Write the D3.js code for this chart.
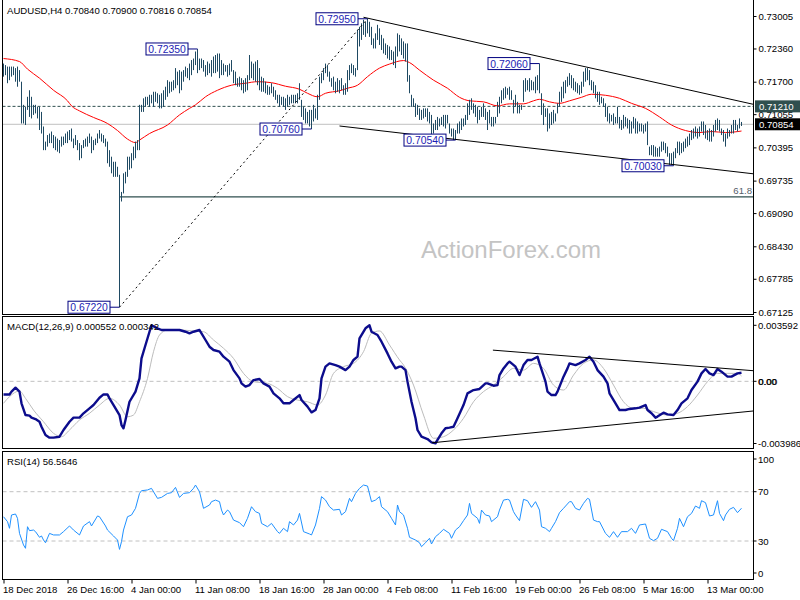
<!DOCTYPE html>
<html><head><meta charset="utf-8">
<script src="https://cdn.jsdelivr.net/npm/d3@7"></script>
<style>body{margin:0;background:#fff}svg{display:block}text{font-family:'Liberation Sans',Arial,sans-serif}</style>
</head><body><svg id="c" width="800" height="600"></svg>
<script>
// ---------------- DATA ----------------
const mainTitle = "AUDUSD,H4  0.70840 0.70900 0.70816 0.70854";
const macdTitle = "MACD(12,26,9) 0.000552 0.000342";
const rsiTitle = "RSI(14) 56.5646";
const watermark = "ActionForex.com";

const barHigh = [
0.7206,0.7203,0.7200,0.7200,0.7200,0.7200,0.7197,0.7200,0.7193,0.7170,
0.7124,0.7120,0.7140,0.7153,0.7140,0.7124,0.7124,0.7120,0.7120,0.7110,
0.7081,0.7051,0.7064,0.7067,0.7071,0.7064,0.7061,0.7057,0.7054,0.7061,
0.7061,0.7067,0.7071,0.7074,0.7077,0.7057,0.7064,0.7054,0.7048,0.7044,
0.7054,0.7057,0.7061,0.7067,0.7061,0.7054,0.7057,0.7067,0.7074,0.7067,
0.7064,0.7057,0.7051,0.7034,0.7021,0.7011,0.7011,0.7001,0.6985,0.6951,
0.6988,0.6991,0.7021,0.7021,0.7028,0.7041,0.7051,0.7054,0.7124,0.7124,
0.7137,0.7140,0.7140,0.7144,0.7144,0.7150,0.7150,0.7147,0.7144,0.7147,
0.7153,0.7160,0.7173,0.7170,0.7170,0.7173,0.7197,0.7190,0.7193,0.7190,
0.7193,0.7200,0.7197,0.7206,0.7213,0.7216,0.7230,0.7235,0.7216,0.7216,
0.7213,0.7203,0.7210,0.7206,0.7213,0.7220,0.7223,0.7226,0.7226,0.7213,
0.7206,0.7203,0.7203,0.7206,0.7213,0.7193,0.7190,0.7177,0.7180,0.7177,
0.7173,0.7177,0.7183,0.7223,0.7210,0.7206,0.7210,0.7213,0.7197,0.7180,
0.7177,0.7170,0.7163,0.7160,0.7167,0.7160,0.7153,0.7144,0.7144,0.7140,
0.7140,0.7137,0.7144,0.7140,0.7144,0.7144,0.7144,0.7147,0.7167,0.7134,
0.7120,0.7117,0.7110,0.7114,0.7114,0.7124,0.7117,0.7144,0.7180,0.7187,
0.7197,0.7206,0.7203,0.7190,0.7177,0.7180,0.7170,0.7177,0.7173,0.7177,
0.7163,0.7167,0.7193,0.7203,0.7206,0.7203,0.7197,0.7273,0.7279,0.7286,
0.7293,0.7289,0.7295,0.7289,0.7279,0.7256,0.7266,0.7283,0.7276,0.7263,
0.7256,0.7246,0.7243,0.7240,0.7233,0.7230,0.7240,0.7266,0.7263,0.7256,
0.7250,0.7246,0.7246,0.7183,0.7144,0.7137,0.7127,0.7124,0.7117,0.7114,
0.7117,0.7117,0.7117,0.7110,0.7104,0.7087,0.7094,0.7100,0.7097,0.7100,
0.7104,0.7104,0.7104,0.7087,0.7077,0.7077,0.7074,0.7087,0.7091,0.7097,
0.7097,0.7104,0.7127,0.7134,0.7137,0.7127,0.7124,0.7120,0.7114,0.7120,
0.7127,0.7117,0.7110,0.7114,0.7100,0.7100,0.7100,0.7130,0.7140,0.7153,
0.7157,0.7160,0.7157,0.7160,0.7153,0.7134,0.7144,0.7130,0.7124,0.7124,
0.7173,0.7177,0.7173,0.7177,0.7173,0.7170,0.7180,0.7183,0.7206,0.7147,
0.7127,0.7117,0.7117,0.7107,0.7110,0.7114,0.7107,0.7127,0.7150,0.7160,
0.7170,0.7173,0.7180,0.7187,0.7183,0.7177,0.7170,0.7167,0.7163,0.7170,
0.7190,0.7197,0.7197,0.7193,0.7173,0.7170,0.7163,0.7150,0.7150,0.7140,
0.7137,0.7127,0.7120,0.7107,0.7104,0.7107,0.7100,0.7120,0.7100,0.7094,
0.7104,0.7100,0.7097,0.7094,0.7091,0.7100,0.7097,0.7091,0.7087,0.7087,
0.7084,0.7087,0.7091,0.7041,0.7044,0.7044,0.7041,0.7038,0.7041,0.7051,
0.7051,0.7048,0.7041,0.7028,0.7028,0.7031,0.7038,0.7051,0.7051,0.7048,
0.7051,0.7057,0.7061,0.7067,0.7074,0.7077,0.7081,0.7077,0.7081,0.7091,
0.7091,0.7084,0.7074,0.7077,0.7074,0.7084,0.7094,0.7097,0.7094,0.7077,
0.7074,0.7067,0.7077,0.7074,0.7084,0.7094,0.7094,0.7084,0.7097,0.7090];

const barLow = [
0.7180,0.7183,0.7167,0.7173,0.7180,0.7183,0.7170,0.7160,0.7170,0.7087,
0.7087,0.7084,0.7114,0.7100,0.7097,0.7104,0.7107,0.7097,0.7074,0.7067,
0.7034,0.7034,0.7041,0.7048,0.7048,0.7038,0.7034,0.7031,0.7028,0.7041,
0.7044,0.7048,0.7048,0.7054,0.7051,0.7038,0.7044,0.7034,0.7014,0.7018,
0.7038,0.7041,0.7041,0.7048,0.7028,0.7034,0.7044,0.7048,0.7057,0.7051,
0.7048,0.7041,0.7008,0.7001,0.6988,0.6981,0.6981,0.6981,0.6722,0.6932,
0.6948,0.6968,0.6981,0.6995,0.6998,0.7014,0.7018,0.7034,0.7034,0.7110,
0.7110,0.7120,0.7124,0.7120,0.7127,0.7120,0.7130,0.7127,0.7117,0.7117,
0.7120,0.7134,0.7140,0.7147,0.7150,0.7153,0.7157,0.7163,0.7147,0.7153,
0.7170,0.7180,0.7177,0.7173,0.7183,0.7193,0.7203,0.7187,0.7193,0.7197,
0.7190,0.7180,0.7183,0.7187,0.7180,0.7187,0.7187,0.7190,0.7177,0.7183,
0.7183,0.7190,0.7180,0.7183,0.7190,0.7167,0.7163,0.7160,0.7160,0.7153,
0.7147,0.7150,0.7153,0.7173,0.7177,0.7173,0.7170,0.7163,0.7153,0.7150,
0.7150,0.7147,0.7144,0.7144,0.7147,0.7140,0.7134,0.7127,0.7120,0.7124,
0.7120,0.7114,0.7120,0.7124,0.7127,0.7127,0.7127,0.7127,0.7134,0.7100,
0.7094,0.7087,0.7087,0.7081,0.7076,0.7091,0.7097,0.7094,0.7134,0.7167,
0.7173,0.7187,0.7180,0.7170,0.7160,0.7153,0.7147,0.7150,0.7147,0.7153,
0.7144,0.7144,0.7150,0.7173,0.7187,0.7183,0.7180,0.7193,0.7240,0.7253,
0.7263,0.7259,0.7266,0.7259,0.7243,0.7236,0.7236,0.7253,0.7243,0.7233,
0.7226,0.7223,0.7216,0.7213,0.7213,0.7203,0.7197,0.7220,0.7230,0.7223,
0.7216,0.7210,0.7170,0.7147,0.7120,0.7120,0.7100,0.7104,0.7094,0.7094,
0.7097,0.7100,0.7091,0.7087,0.7061,0.7067,0.7074,0.7074,0.7081,0.7084,
0.7081,0.7077,0.7087,0.7067,0.7061,0.7054,0.7054,0.7067,0.7067,0.7074,
0.7081,0.7084,0.7094,0.7104,0.7114,0.7107,0.7100,0.7087,0.7094,0.7100,
0.7100,0.7094,0.7074,0.7087,0.7081,0.7081,0.7087,0.7100,0.7107,0.7127,
0.7134,0.7137,0.7144,0.7134,0.7134,0.7107,0.7120,0.7107,0.7107,0.7114,
0.7130,0.7150,0.7153,0.7150,0.7153,0.7153,0.7147,0.7153,0.7147,0.7104,
0.7084,0.7100,0.7071,0.7077,0.7084,0.7087,0.7091,0.7107,0.7120,0.7130,
0.7137,0.7147,0.7160,0.7163,0.7157,0.7153,0.7150,0.7147,0.7144,0.7147,
0.7160,0.7170,0.7173,0.7163,0.7153,0.7147,0.7137,0.7130,0.7124,0.7127,
0.7120,0.7100,0.7091,0.7087,0.7091,0.7084,0.7087,0.7087,0.7077,0.7074,
0.7077,0.7081,0.7077,0.7067,0.7067,0.7077,0.7067,0.7067,0.7071,0.7071,
0.7067,0.7071,0.7044,0.7024,0.7024,0.7021,0.7021,0.7021,0.7021,0.7031,
0.7034,0.7028,0.7021,0.7005,0.7005,0.7003,0.7018,0.7028,0.7024,0.7028,
0.7031,0.7038,0.7041,0.7044,0.7054,0.7057,0.7061,0.7057,0.7061,0.7071,
0.7064,0.7057,0.7054,0.7051,0.7051,0.7061,0.7071,0.7074,0.7071,0.7064,
0.7051,0.7041,0.7057,0.7061,0.7067,0.7067,0.7074,0.7071,0.7077,0.7082];

// moving average (red), sampled at bar indices
const maIdx = [0,8,12,18,25,32,34,38,45,52,57,62,66,68,73,82,88,93,96,101,107,114,121,127,134,141,148,152,157,161,168,172,177,182,188,193,200,203,208,215,222,228,233,240,247,253,260,265,268,273,278,283,289,294,301,308,314,321,328,334,341,348,354,361,369];
const maVal = [0.7216,0.7210,0.7195,0.7177,0.7153,0.7132,0.7122,0.7112,0.7099,0.7087,0.7073,0.7056,0.7049,0.7054,0.7067,0.7084,0.7104,0.7117,0.7124,0.7140,0.7153,0.7163,0.7167,0.7170,0.7168,0.7161,0.7155,0.7147,0.7140,0.7147,0.7152,0.7157,0.7163,0.7180,0.7197,0.7205,0.7212,0.7208,0.7193,0.7173,0.7157,0.7139,0.7132,0.7130,0.7122,0.7126,0.7126,0.7132,0.7135,0.7130,0.7127,0.7132,0.7139,0.7145,0.7143,0.7137,0.7127,0.7117,0.7100,0.7084,0.7073,0.7069,0.7071,0.7069,0.7072];

const priceTicks = [0.73005,0.72360,0.71700,0.71055,0.70395,0.69735,0.69090,0.68430,0.67785,0.67125];
const timeIdx = [0,32,64,96,128,160,192,224,256,288,320,352];
const timeLabels = ["18 Dec 2018","26 Dec 16:00","4 Jan 00:00","11 Jan 08:00","18 Jan 16:00","28 Jan 00:00","4 Feb 08:00","11 Feb 16:00","19 Feb 00:00","26 Feb 08:00","5 Mar 16:00","13 Mar 00:00"];

// swing labels
const swingIdx = [97,182,154,226,268,335,58];
const swingVal = [0.7235,0.7295,0.7076,0.7054,0.7206,0.7003,0.6722];
const swingText = ["0.72350","0.72950","0.70760","0.70540","0.72060","0.70030","0.67220"];

// horizontal levels
const bidLevel = 0.70854, bidText = "0.70854";
const alertLevel = 0.71210, alertText = "0.71210";
const fibLevel = 0.6941, fibText = "61.8", fibStartIdx = 58;

// trend lines [idx, value]
const channelUpper = [[180,0.7298],[375,0.7125]];
const channelLower = [[168,0.7082],[375,0.6987]];
const rallyLine = [[58,0.6722],[182,0.7295]];

// MACD
const macdIdx = [0,3,4,6,8,9,11,13,14,16,18,19,21,23,25,28,30,33,35,38,40,43,45,48,50,52,53,56,58,59,60,61,63,66,68,69,71,73,74,77,79,82,85,88,91,93,95,98,99,101,103,105,108,110,113,115,118,119,121,123,125,128,130,133,135,138,140,143,145,148,149,152,154,156,158,159,161,163,166,168,171,173,175,177,178,181,183,184,187,189,192,194,196,198,
199,201,202,204,206,207,209,212,214,216,217,219,221,223,225,227,230,232,235,238,241,242,245,247,248,250,252,253,256,258,260,262,264,267,268,271,272,274,276,277,280,282,283,286,288,291,293,295,297,300,302,303,306,308,311,313,316,318,321,322,324,326,327,330,332,335,337,339,342,344,347,349,351,353,355,357,359,362,364,367,369];
const macdVal = [-0.00084,-0.00084,-0.00066,-0.00041,-0.00066,-0.00141,-0.00216,-0.00220,-0.00233,-0.00242,-0.00259,-0.00291,-0.00344,-0.00361,-0.00361,-0.00355,-0.00312,-0.00259,-0.00233,-0.00233,-0.00205,-0.00173,-0.00152,-0.00105,-0.00084,-0.00084,-0.00109,-0.00173,-0.00216,-0.00280,-0.00301,-0.00248,-0.00131,-0.00066,0.00019,0.00147,0.00233,0.00318,0.00359,0.00340,0.00329,0.00329,0.00329,0.00329,0.00318,0.00308,0.00318,0.00329,0.00308,0.00265,0.00222,0.00201,0.00190,0.00158,0.00126,0.00072,0.00019,-0.00013,-0.00034,-0.00024,0.00008,0.00015,-0.00013,-0.00034,-0.00077,-0.00109,-0.00141,-0.00141,-0.00120,-0.00088,-0.00120,-0.00162,-0.00199,-0.00184,-0.00109,0.00019,0.00094,0.00115,0.00104,0.00094,0.00072,0.00094,0.00137,0.00158,0.00275,0.00340,0.00359,0.00318,0.00297,0.00254,0.00179,0.00126,0.00083,0.00094,
0.00094,0.00072,-0.00002,-0.00131,-0.00237,-0.00312,-0.00355,-0.00370,-0.00391,-0.00397,-0.00376,-0.00333,-0.00301,-0.00297,-0.00291,-0.00237,-0.00152,-0.00077,-0.00056,-0.00049,-0.00013,-0.00013,-0.00028,-0.00024,0.00040,0.00083,0.00115,0.00126,0.00094,0.00040,0.00104,0.00137,0.00137,0.00158,0.00115,-0.00002,-0.00066,-0.00088,-0.00088,-0.00066,0.00030,0.00083,0.00115,0.00104,0.00115,0.00137,0.00158,0.00126,0.00072,0.00030,-0.00013,-0.00077,-0.00141,-0.00184,-0.00184,-0.00177,-0.00173,-0.00169,-0.00152,-0.00184,-0.00205,-0.00233,-0.00226,-0.00201,-0.00212,-0.00216,-0.00184,-0.00141,-0.00109,-0.00056,-0.00002,0.00051,0.00079,0.00051,0.00040,0.00079,0.00062,0.00030,0.00030,0.00051,0.00055];
const sigIdx = [0,3,8,11,15,20,25,29,33,38,43,48,53,58,62,65,68,72,75,78,82,88,95,100,105,110,115,120,125,132,137,142,147,152,157,161,165,170,175,180,184,188,193,198,
200,205,210,215,220,225,230,235,240,245,250,255,260,265,270,275,280,285,290,295,300,305,310,315,320,325,332,337,342,347,352,357,362,367,369];
const sigVal = [-0.00141,-0.00098,-0.00062,-0.00109,-0.00184,-0.00259,-0.00333,-0.00355,-0.00312,-0.00248,-0.00205,-0.00152,-0.00109,-0.00152,-0.00227,-0.00216,-0.00131,0.00019,0.00190,0.00297,0.00329,0.00329,0.00323,0.00318,0.00265,0.00212,0.00147,0.00051,-0.00002,-0.00013,-0.00045,-0.00098,-0.00120,-0.00131,-0.00152,-0.00088,0.00051,0.00094,0.00115,0.00190,0.00308,0.00323,0.00233,0.00137,
0.00105,-0.00024,-0.00216,-0.00365,-0.00355,-0.00312,-0.00237,-0.00131,-0.00066,-0.00024,0.00030,0.00083,0.00072,0.00115,0.00083,-0.00024,-0.00056,0.00040,0.00115,0.00137,0.00083,-0.00024,-0.00131,-0.00173,-0.00173,-0.00194,-0.00216,-0.00205,-0.00162,-0.00088,-0.00002,0.00051,0.00051,0.00051,0.00034];
const macdTicks = [0.003592, 0, -0.003986];
const macdTickText = ["0.003592", "0.00", "-0.003986"];
const macdUpper = [[244.7,0.00200],[375,0.00068]];
const macdLower = [[214.2,-0.00394],[375,-0.00190]];

// RSI
const rsiIdx = [0,2,3,4,6,7,8,10,11,12,13,15,16,18,19,20,21,23,25,28,30,33,35,38,40,43,44,47,48,51,52,55,57,58,59,60,62,64,66,68,69,72,74,77,79,82,84,86,88,90,93,95,96,98,100,103,104,106,108,109,110,112,113,115,118,120,122,124,126,128,129,132,134,137,138,140,142,143,145,147,148,150,153,154,156,158,159,161,163,165,168,169,171,173,174,176,178,180,182,184,186,188,189,192,194,196,197,
198,200,202,203,206,208,209,211,213,214,216,218,220,223,224,226,228,230,232,233,234,237,238,239,241,243,244,247,248,250,252,253,255,256,258,260,262,264,266,268,269,271,273,274,276,278,280,283,284,286,288,290,292,293,295,297,298,301,303,305,307,309,312,314,316,318,321,323,325,327,329,332,334,335,337,338,340,342,344,346,348,349,351,353,355,357,358,360,361,363,365,367,369];
const rsiVal = [49.7,45.7,40.3,51.1,51.9,48.4,36.2,26.8,24.1,41.6,38.4,38.9,37.6,33.0,34.1,30.8,28.6,36.2,34.9,34.9,37.6,42.2,38.9,34.9,42.2,45.7,42.2,50.3,49.7,42.2,38.9,34.1,30.8,23.2,29.5,38.9,49.7,51.1,56.5,68.6,70.8,71.4,72.7,64.6,65.4,68.6,69.2,73.5,65.4,68.6,69.2,72.7,75.4,70.0,56.5,59.2,61.9,63.2,61.9,55.1,51.1,55.1,53.8,47.0,44.9,41.6,48.4,57.8,53.8,52.4,44.3,41.6,44.3,37.6,36.2,40.3,37.6,45.7,43.0,47.0,52.4,37.6,35.7,34.9,43.0,56.5,66.0,63.2,57.8,55.1,55.7,51.1,53.8,64.6,61.9,68.6,72.7,75.4,74.6,61.9,63.2,66.0,57.8,53.8,48.4,43.0,59.2,
53.8,51.1,40.3,33.0,30.8,28.6,25.4,28.6,32.2,27.6,33.5,36.2,39.5,36.2,32.2,38.9,41.6,46.5,51.1,60.5,52.4,48.4,44.3,55.1,51.1,50.3,45.7,49.7,55.1,63.2,63.8,63.2,53.8,51.1,46.5,63.8,62.7,57.3,61.9,55.1,41.6,40.3,37.6,40.3,45.7,53.0,56.5,61.9,61.9,56.5,55.1,60.5,64.6,63.8,47.0,45.7,45.7,36.2,33.0,37.6,33.0,37.6,37.6,40.3,36.2,43.0,43.8,32.2,30.3,32.2,39.5,37.6,32.2,30.3,40.3,48.4,41.6,49.7,52.4,58.4,56.5,62.7,61.1,50.3,51.1,62.7,52.4,46.5,51.1,55.7,57.3,53.0,56.6];
const rsiLevels = [70, 30];
const rsiTicks = [100, 70, 30, 0];

// ---------------- DRAW ----------------
const svg = d3.select("#c");
const FONT = 9.6;
const left = 2.5, right = 753.5;
const panels = {
  main: {top: -1, bottom: 314.5},
  macd: {top: 316.5, bottom: 448.5},
  rsi:  {top: 451.5, bottom: 579.5}
};
svg.append("rect").attr("width",800).attr("height",600).attr("fill","#fff");

const x = d3.scaleLinear().domain([0, 369]).range([3.5, 741.5]);
const yP = d3.scaleLinear().domain([0.67125, 0.73005]).range([312, 16]);
const yM = d3.scaleLinear().domain([-0.003986, 0.003592]).range([443.5, 325.3]);
const yR = d3.scaleLinear().domain([0, 100]).range([578, 454.7]);

const defs = svg.append("defs");
Object.entries(panels).forEach(([k,p]) => {
  defs.append("clipPath").attr("id","clip-"+k).append("rect")
    .attr("x", left).attr("y", p.top).attr("width", right-left).attr("height", p.bottom-p.top);
});

// ---- main panel ----
const gMain = svg.append("g").attr("clip-path","url(#clip-main)");
// bid line
gMain.append("line").attr("x1",left).attr("x2",right).attr("y1",yP(bidLevel)).attr("y2",yP(bidLevel))
  .attr("stroke","#c0c0c0").attr("stroke-width",1);
// alert dashed
gMain.append("line").attr("x1",left).attr("x2",right).attr("y1",yP(alertLevel)).attr("y2",yP(alertLevel))
  .attr("stroke","#2f4f4f").attr("stroke-width",1).attr("stroke-dasharray","3,2");
// fib line
gMain.append("line").attr("x1",x(fibStartIdx)).attr("x2",right).attr("y1",yP(fibLevel)).attr("y2",yP(fibLevel))
  .attr("stroke","#2f4f4f").attr("stroke-width",1.2);
gMain.append("text").attr("x",752).attr("y",yP(fibLevel)-3).attr("text-anchor","end")
  .attr("font-size",FONT).attr("fill","#55606a").text(fibText);

// watermark
svg.append("text").attr("x",421).attr("y",258).attr("font-size",24).attr("fill","#c4c4c4").text(watermark);

// MA
const lineGen = (xs, ys, xsc, ysc, curve) => d3.line().x((d,i)=>xsc(xs[i])).y((d,i)=>ysc(ys[i])).curve(curve || d3.curveLinear)(xs);
gMain.append("path").attr("d", lineGen(maIdx, maVal, x, yP, d3.curveMonotoneX))
  .attr("fill","none").attr("stroke","#ff0000").attr("stroke-width",1);

// bars
gMain.append("g").selectAll("line").data(d3.range(barHigh.length)).join("line")
  .attr("x1", i=>x(i)).attr("x2", i=>x(i))
  .attr("y1", i=>yP(barHigh[i])).attr("y2", i=>Math.max(yP(barLow[i]), yP(barHigh[i])+1))
  .attr("stroke","#1f4a63").attr("stroke-width",1);

// trend lines
const seg = (g, pts, ysc, dash) => g.append("line")
  .attr("x1", x(pts[0][0])).attr("y1", ysc(pts[0][1])).attr("x2", x(pts[1][0])).attr("y2", ysc(pts[1][1]))
  .attr("stroke","#000").attr("stroke-width",1).attr("stroke-dasharray", dash || null);
seg(gMain, channelUpper, yP);
seg(gMain, channelLower, yP);
seg(gMain, rallyLine, yP, "2,3");

// swing labels
const labG = gMain.append("g");
swingIdx.forEach((k,i) => {
  const bx = x(k), by = yP(swingVal[i]);
  const w = 42, h = 12, rx = bx - 10 - w;
  labG.append("line").attr("x1", rx + w).attr("x2", bx).attr("y1", by).attr("y2", by).attr("stroke","#000080").attr("stroke-width",1);
  labG.append("rect").attr("x", rx+0.5).attr("y", by - h/2).attr("width", w).attr("height", h)
    .attr("fill","#fff").attr("stroke","#000080").attr("stroke-width",1);
  labG.append("text").attr("x", rx + w/2 + 0.5).attr("y", by + 4).attr("text-anchor","middle")
    .attr("font-size",10.4).attr("fill","#1c1cb4").text(swingText[i]);
});

// main title
svg.append("text").attr("x",7).attr("y",14).attr("font-size",FONT).attr("fill","#000").text(mainTitle);

// ---- MACD panel ----
const gM = svg.append("g").attr("clip-path","url(#clip-macd)");
gM.append("line").attr("x1",left).attr("x2",right).attr("y1",yM(0)).attr("y2",yM(0))
  .attr("stroke","#c0c0c0").attr("stroke-dasharray","4,3");
gM.append("path").attr("d", lineGen(sigIdx, sigVal, x, yM, d3.curveMonotoneX))
  .attr("fill","none").attr("stroke","#bcbcbc").attr("stroke-width",1);
gM.append("path").attr("d", lineGen(macdIdx, macdVal, x, yM))
  .attr("fill","none").attr("stroke","#0c0c8c").attr("stroke-width",2.4).attr("stroke-linejoin","round");
seg(gM, macdUpper, yM);
seg(gM, macdLower, yM);
svg.append("text").attr("x",7).attr("y",330).attr("font-size",FONT).attr("fill","#000").text(macdTitle);

// ---- RSI panel ----
const gR = svg.append("g").attr("clip-path","url(#clip-rsi)");
rsiLevels.forEach(v => gR.append("line").attr("x1",left).attr("x2",right).attr("y1",yR(v)).attr("y2",yR(v))
  .attr("stroke","#c0c0c0").attr("stroke-dasharray","4,3"));
gR.append("path").attr("d", lineGen(rsiIdx, rsiVal, x, yR))
  .attr("fill","none").attr("stroke","#1e90ff").attr("stroke-width",1);
svg.append("text").attr("x",7).attr("y",465).attr("font-size",FONT).attr("fill","#000").text(rsiTitle);

// ---- frames ----
Object.values(panels).forEach(p => {
  svg.append("rect").attr("x",left).attr("y",p.top).attr("width",right-left).attr("height",p.bottom-p.top)
    .attr("fill","none").attr("stroke","#000").attr("stroke-width",1);
});

// ---- right axes ----
const axisP = d3.axisRight(yP).tickValues(priceTicks).tickFormat(d3.format(".5f")).tickSize(3).tickPadding(2);
const gAP = svg.append("g").attr("transform",`translate(${right},0)`).call(axisP);
const styleAxis = g => { g.select(".domain").remove(); g.selectAll("text").attr("font-size",FONT).attr("fill","#000").attr("font-family","'Liberation Sans',Arial,sans-serif"); g.selectAll("line").attr("stroke","#000"); };
styleAxis(gAP);

// price boxes on axis
const priceBox = (v, t, fill) => {
  const yy = yP(v);
  svg.append("rect").attr("x",755).attr("y",yy-6).attr("width",45).attr("height",12).attr("fill",fill);
  svg.append("text").attr("x",759).attr("y",yy+3.5).attr("font-size",FONT).attr("fill","#fff").text(t);
};
priceBox(alertLevel, alertText, "#2f4f4f");
priceBox(bidLevel, bidText, "#000");

// MACD axis
macdTicks.forEach((v,i) => {
  const yy = yM(v);
  svg.append("line").attr("x1",right).attr("x2",right+3).attr("y1",yy).attr("y2",yy).attr("stroke","#000");
  const t = svg.append("text").attr("x",758).attr("y",yy+3.5).attr("font-size",FONT).attr("fill","#000").text(macdTickText[i]);
  if (v === 0) svg.append("text").attr("x",758.6).attr("y",yy+3.5).attr("font-size",FONT).attr("fill","#000").text(macdTickText[i]);
});
// RSI axis
rsiTicks.forEach(v => {
  const yy = Math.min(Math.max(yR(v), 459), 573);
  svg.append("line").attr("x1",right).attr("x2",right+3).attr("y1",yy).attr("y2",yy).attr("stroke","#000");
  svg.append("text").attr("x",758).attr("y",yy+3.5).attr("font-size",FONT).attr("fill","#000").text(v);
});

// ---- time axis ----
const axisT = d3.axisBottom(x).tickValues(timeIdx).tickFormat((d,i)=>timeLabels[i]).tickSize(4).tickPadding(3);
const gAT = svg.append("g").attr("transform",`translate(0,${panels.rsi.bottom})`).call(axisT);
styleAxis(gAT);
gAT.selectAll("text").attr("text-anchor","start").attr("dx",-1);
</script></body></html>
